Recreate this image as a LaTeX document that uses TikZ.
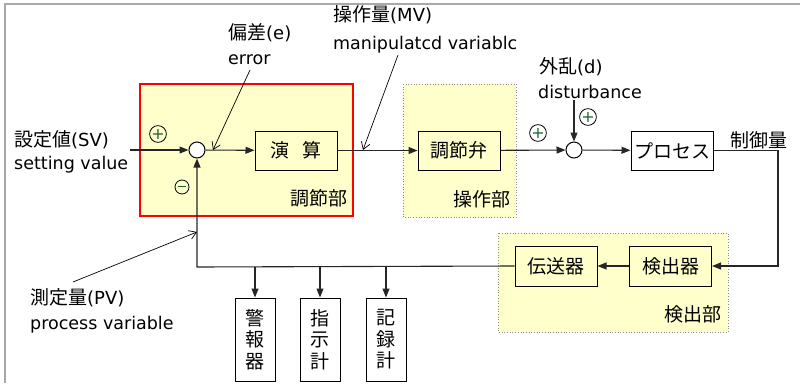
\documentclass[tikz,border=0pt]{standalone}
\usepackage{fontspec}
\setmainfont{DejaVu Sans}
\newfontfamily\jp{Noto Sans CJK JP}
\usetikzlibrary{arrows.meta}

\definecolor{zonefill}{HTML}{FFFFCC}
\definecolor{signgreen}{HTML}{1E6432}
\definecolor{framegray}{HTML}{A8A8A8}

\newcommand{\lat}[1]{{\fontspec{DejaVu Sans}\fontsize{18}{20}\selectfont #1}}

\tikzset{
  sig/.style={line width=1.1pt, draw=black!85},
  tip/.style={sig, -{Triangle[length=9pt,width=7pt]}},
  note/.style={line width=0.7pt, -{Straight Barb[length=7pt,width=9pt]}},
  blk/.style={draw, line width=1pt, minimum width=82pt, minimum height=39pt,
    inner sep=0pt, font=\jp\fontsize{19}{20}\selectfont},
  vblk/.style={draw, line width=1pt, minimum width=40pt, minimum height=83pt,
    inner sep=0pt, align=center, font=\jp\fontsize{19}{21.5}\selectfont},
  sumpt/.style={circle, draw, line width=1pt, fill=white, minimum size=16pt, inner sep=0pt},
  sign/.style={circle, draw, line width=0.8pt, minimum size=14pt, inner sep=0pt,
    text=signgreen, font=\fontsize{16}{16}\selectfont},
  zone/.style={fill=zonefill, draw=black!45, dotted, line width=0.7pt},
  jlbl/.style={inner sep=0pt, font=\jp\fontsize{19}{20}\selectfont},
  elbl/.style={inner sep=0pt, font=\fontsize{17.5}{20}\selectfont},
}

\begin{document}
\begin{tikzpicture}[x=1pt,y=-1pt]
\useasboundingbox (0,0) rectangle (800,383);

% frame edges
\draw[framegray, line width=2pt] (5,383) -- (5,4) -- (800,4);

% grouping zones
\filldraw[fill=zonefill, draw=red, line width=1.5pt] (140,84) rectangle (353,216);
\filldraw[zone] (403,84) rectangle (516,217);
\filldraw[zone] (498,233) rectangle (728,332);

\node[jlbl, anchor=south east] (zcalc) at (348,207) {調節部};
\node[jlbl, anchor=south east] (zop) at (511,208) {操作部};
\node[jlbl, anchor=south east] (zdet) at (722,323) {検出部};

% blocks
\node[sumpt] (sum1) at (197,150) {};
\node[sumpt] (sum2) at (574,150) {};
\node[blk] (calc) at (296,150.5) {演\hspace{14pt}算};
\node[blk] (valve) at (459,150.5) {調節弁};
\node[blk] (proc) at (672,150.5) {プロセス};
\node[blk, minimum height=40pt] (det) at (670.5,266) {検出器};
\node[blk, minimum height=40pt] (tx) at (556,266) {伝送器};
\node[vblk] (alarm) at (255,339.5) {警\\報\\器};
\node[vblk] (ind) at (320,339.5) {指\\示\\計};
\node[vblk] (rec) at (386,339.5) {記\\録\\計};

% signs at the summing points
\node[sign] (p1) at (158,134) {+};
\node[sign] (m1) at (182,187) {\raisebox{0.5pt}{\rule{8pt}{1.4pt}}};
\node[sign] (p2) at (538,133) {+};
\node[sign] (p3) at (588,117) {+};

% signal flow
\coordinate (svin) at (130,150);
\coordinate (dist) at (574,100);
\coordinate (outc) at (778,150.5);
\coordinate (fb) at (197,267);
\draw[tip] (svin) -- (sum1);
\draw[tip] (sum1) -- (calc);
\draw[tip] (calc) -- (valve);
\draw[tip] (valve) -- (sum2);
\draw[tip] (dist) -- (sum2);
\draw[tip] (sum2) -- (proc);
\draw[tip] (proc.east) -- (outc) |- (det.east);
\draw[tip] (det) -- (tx);
\draw[tip] (tx.west) -- (fb) -- (sum1.south);
\foreach \b in {alarm,ind,rec}
  \draw[tip] (fb -| \b.north) -- (\b.north);

% annotations
\node[jlbl, anchor=west] (elab) at (228,33) {偏差\lat{(e)}};
\node[elbl, anchor=west] (elab2) at (228,60) {error};
\node[jlbl, anchor=west] (mvlab) at (333,15) {操作量\lat{(MV)}};
\node[elbl, anchor=west] (mvlab2) at (333,45) {manipulatcd variablc};
\node[jlbl, anchor=west] (dlab) at (539,67) {外乱\lat{(d)}};
\node[elbl, anchor=west] (dlab2) at (538,92) {disturbance};
\node[jlbl, anchor=west] (svlab) at (14,140) {設定値\lat{(SV)}};
\node[elbl, anchor=west] (svlab2) at (14,165) {setting value};
\node[jlbl, anchor=west] (pvlab) at (30,298) {測定量\lat{(PV)}};
\node[elbl, anchor=west] (pvlab2) at (30,325) {process variable};
\node[jlbl, anchor=west] (cvlab) at (730,140) {制御量};

\coordinate (e0) at (250,70);   \coordinate (e1) at (213,150);
\coordinate (m0) at (398,55);   \coordinate (m1) at (363,150);
\coordinate (v0) at (73,282);   \coordinate (v1) at (197,232);
\draw[note] (e0) -- (e1);
\draw[note] (m0) -- (m1);
\draw[note] (v0) -- (v1);
\end{tikzpicture}
\end{document}
